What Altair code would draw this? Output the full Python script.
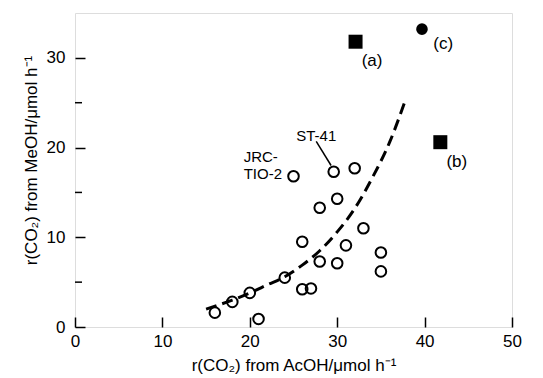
import altair as alt
import pandas as pd

# open circles
open_x = [16, 18, 20, 21, 24, 25, 26, 26, 27, 28, 28, 29.6, 30, 30, 31, 32, 33, 35, 35]
open_y = [1.6, 2.8, 3.8, 0.9, 5.5, 16.8, 9.5, 4.2, 4.3, 13.3, 7.3, 17.3, 14.3, 7.1, 9.1, 17.7, 11.0, 8.3, 6.2]

# filled squares (a), (b) and filled circle (c)
sq_x = [32.1, 41.8]
sq_y = [31.8, 20.6]
fc_x = [39.7]
fc_y = [33.2]

# dashed trend curve
curve_x = [15, 18, 20, 22, 24, 26, 28, 30, 32, 34, 36, 37.7]
curve_y = [2.0, 3.0, 3.8, 4.7, 5.6, 6.9, 8.5, 10.6, 13.2, 16.6, 20.6, 25.0]

# annotations
lab_text = ["(a)", "(b)", "(c)"]
lab_x = [32.8, 42.5, 41.0]
lab_y = [29.7, 18.4, 31.6]

name_text = ["JRC-", "TIO-2"]
name_x = [19.3, 19.3]
name_y = [19.0, 17.0]

st_text = ["ST-41"]
st_x = [27.6]
st_y = [21.3]
leader_x = [27.6, 29.3]
leader_y = [20.7, 18.0]

minor_y = [5, 15, 25]

FONT = "Liberation Sans"

xs = alt.Scale(domain=[0, 50], nice=False, zero=False)
ys = alt.Scale(domain=[0, 35], nice=False, zero=False)

open_df = pd.DataFrame({"x": open_x, "y": open_y})
sq_df = pd.DataFrame({"x": sq_x, "y": sq_y})
fc_df = pd.DataFrame({"x": fc_x, "y": fc_y})
curve_df = pd.DataFrame({"x": curve_x, "y": curve_y})
lab_df = pd.DataFrame({"x": lab_x, "y": lab_y, "t": lab_text})
name_df = pd.DataFrame({"x": name_x, "y": name_y, "t": name_text})
st_df = pd.DataFrame({"x": st_x, "y": st_y, "t": st_text})
leader_df = pd.DataFrame({"x": leader_x, "y": leader_y})
minor_df = pd.DataFrame({"y": minor_y})

xaxis = alt.Axis(
    values=[0, 10, 20, 30, 40, 50], title="r(CO₂) from AcOH/μmol h⁻¹",
    domain=False, grid=False, offset=-10, tickSize=10, tickWidth=1.5,
    tickColor="black", labelPadding=6, labelFontSize=17, titleFontSize=17,
    labelFont=FONT, titleFont=FONT, titleFontWeight="normal",
    labelColor="black", titleColor="black", titlePadding=8,
    labelFlush=False,
)
yaxis = alt.Axis(
    values=[0, 10, 20, 30], title="r(CO₂) from MeOH/μmol h⁻¹",
    domain=False, grid=False, offset=-10, tickSize=10, tickWidth=1.5,
    tickColor="black", labelPadding=10, labelFontSize=17, titleFontSize=17,
    labelFont=FONT, titleFont=FONT, titleFontWeight="normal",
    labelColor="black", titleColor="black", titlePadding=6,
    labelFlush=False, titleY=147,
)

base_x = alt.X("x:Q", scale=xs, axis=xaxis)
base_y = alt.Y("y:Q", scale=ys, axis=yaxis)

curve = alt.Chart(curve_df).mark_line(
    color="black", strokeWidth=3, strokeDash=[11, 6], interpolate="monotone"
).encode(x=base_x, y=base_y, order="x:Q")

circles = alt.Chart(open_df).mark_point(
    shape="circle", filled=False, color="black", strokeWidth=2, size=112, opacity=1
).encode(x="x:Q", y="y:Q")

squares = alt.Chart(sq_df).mark_point(
    shape="square", filled=True, color="black", size=196, opacity=1
).encode(x="x:Q", y="y:Q")

fcircle = alt.Chart(fc_df).mark_point(
    shape="circle", filled=True, color="black", size=135, opacity=1
).encode(x="x:Q", y="y:Q")

labels = alt.Chart(lab_df).mark_text(
    align="left", baseline="middle", fontSize=17, font=FONT, color="black"
).encode(x="x:Q", y="y:Q", text="t:N")

names = alt.Chart(name_df).mark_text(
    align="left", baseline="middle", fontSize=15, font=FONT, color="black"
).encode(x="x:Q", y="y:Q", text="t:N")

st = alt.Chart(st_df).mark_text(
    align="center", baseline="middle", fontSize=15, font=FONT, color="black"
).encode(x="x:Q", y="y:Q", text="t:N")

leader = alt.Chart(leader_df).mark_line(color="black", strokeWidth=1.5).encode(
    x="x:Q", y="y:Q"
)

minor = alt.Chart(minor_df).mark_rule(color="black", strokeWidth=1.5).encode(
    y="y:Q", x=alt.value(0), x2=alt.value(7)
)

chart = alt.layer(
    curve, minor, leader, circles, squares, fcircle, labels, names, st
).properties(
    width=437, height=314,
    autosize=alt.AutoSizeParams(type="none"),
    padding={"left": 67, "top": 5, "right": 23, "bottom": 48},
).configure_view(
    stroke="black", strokeWidth=1.5
).configure(background="white")

chart.save("out.html", embed_options={"renderer": "svg", "actions": False})
